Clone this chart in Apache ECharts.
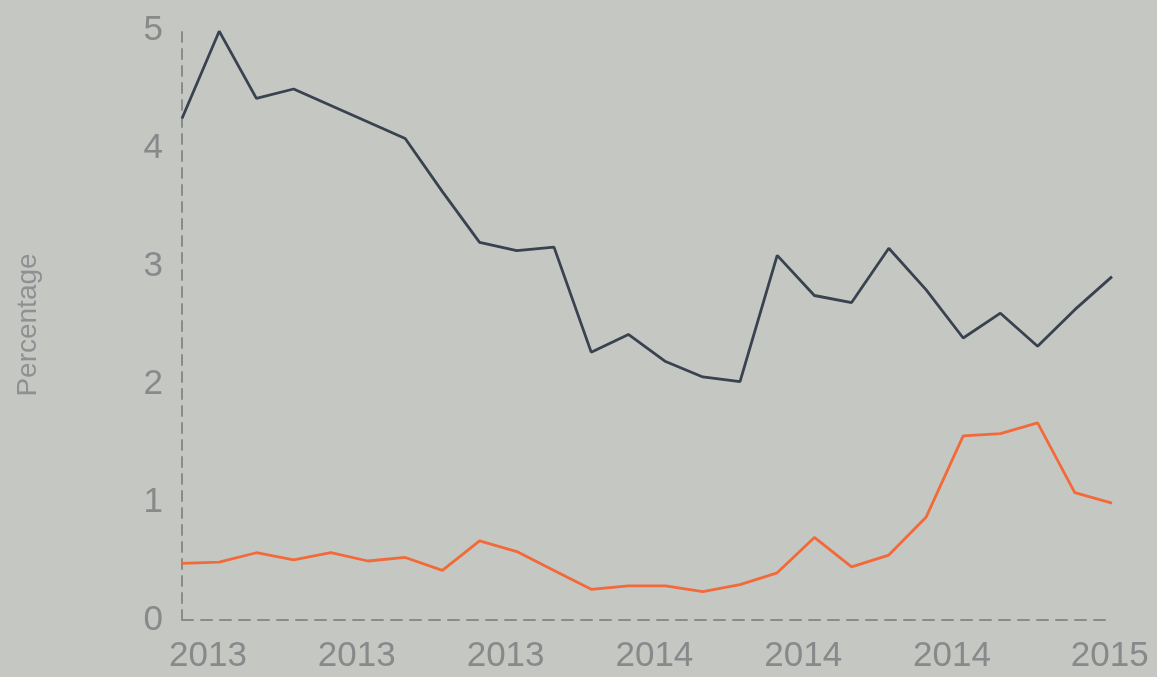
<!DOCTYPE html>
<html>
<head>
<meta charset="UTF-8">
<title>Percentage</title>
<script src="https://cdn.jsdelivr.net/npm/echarts@6/dist/echarts.min.js"></script>
<style>
  html, body { margin: 0; padding: 0; background: #c5c7c3; }
  #chart { width: 1157px; height: 677px; }
</style>
</head>
<body>
<div id="chart"></div>
<script type="text/javascript">
// monthly points, Jan 2013 - Feb 2015
var months = ['2013-01', '2013-02', '2013-03', '2013-04', '2013-05', '2013-06',
  '2013-07', '2013-08', '2013-09', '2013-10', '2013-11', '2013-12',
  '2014-01', '2014-02', '2014-03', '2014-04', '2014-05', '2014-06',
  '2014-07', '2014-08', '2014-09', '2014-10', '2014-11', '2014-12',
  '2015-01', '2015-02'];
var darkSeries = [4.25, 4.99, 4.42, 4.50, 4.36, 4.22, 4.08, 3.63, 3.20, 3.13,
  3.16, 2.27, 2.42, 2.19, 2.06, 2.02, 3.09, 2.75, 2.69, 3.15,
  2.80, 2.39, 2.60, 2.32, 2.63, 2.91];
var orangeSeries = [0.48, 0.49, 0.57, 0.51, 0.57, 0.50, 0.53, 0.42, 0.67, 0.58,
  0.42, 0.26, 0.29, 0.29, 0.24, 0.30, 0.40, 0.70, 0.45, 0.55,
  0.87, 1.56, 1.58, 1.67, 1.08, 0.99];
var yTicks = [0, 1, 2, 3, 4, 5];

// the last year label sits a bit further right, against the edge
var xData = months.map(function (m, i) {
  if (m === '2015-01') {
    return { value: m, textStyle: { padding: [0, 0, 0, 70] } };
  }
  return m;
});

var chart = echarts.init(document.getElementById('chart'));

chart.setOption({
  backgroundColor: '#c5c7c3',
  animation: false,
  grid: {
    left: 182,
    right: 45,
    top: 30,
    bottom: 57
  },
  xAxis: {
    type: 'category',
    boundaryGap: false,
    data: xData,
    axisLine: {
      lineStyle: { color: '#8a8c8c', width: 2, type: [11, 8] }
    },
    axisTick: { show: false },
    axisLabel: {
      interval: 3,
      margin: 19,
      padding: [0, 0, 0, 52],
      color: '#87898b',
      fontSize: 35,
      fontFamily: 'Liberation Sans, Arial, sans-serif',
      formatter: function (v) {
        return v.slice(0, 4);
      }
    },
    splitLine: { show: false }
  },
  yAxis: {
    type: 'value',
    min: yTicks[0],
    max: yTicks[yTicks.length - 1],
    interval: 1,
    name: 'Percentage',
    nameLocation: 'middle',
    nameGap: 140,
    nameRotate: 90,
    nameTextStyle: {
      color: '#8e9092',
      fontSize: 28,
      fontFamily: 'Liberation Sans, Arial, sans-serif'
    },
    axisLine: {
      show: true,
      lineStyle: { color: '#8a8c8c', width: 2, type: [10, 7] }
    },
    axisTick: { show: false },
    axisLabel: {
      margin: 19,
      color: '#87898b',
      fontSize: 35,
      fontFamily: 'Liberation Sans, Arial, sans-serif'
    },
    splitLine: { show: false }
  },
  series: [{
    name: 'dark',
    type: 'line',
    data: darkSeries,
    symbol: 'none',
    lineStyle: { color: '#39424f', width: 2.8 }
  }, {
    name: 'orange',
    type: 'line',
    data: orangeSeries,
    symbol: 'none',
    lineStyle: { color: '#f26a3a', width: 2.8 }
  }]
});
</script>
</body>
</html>
